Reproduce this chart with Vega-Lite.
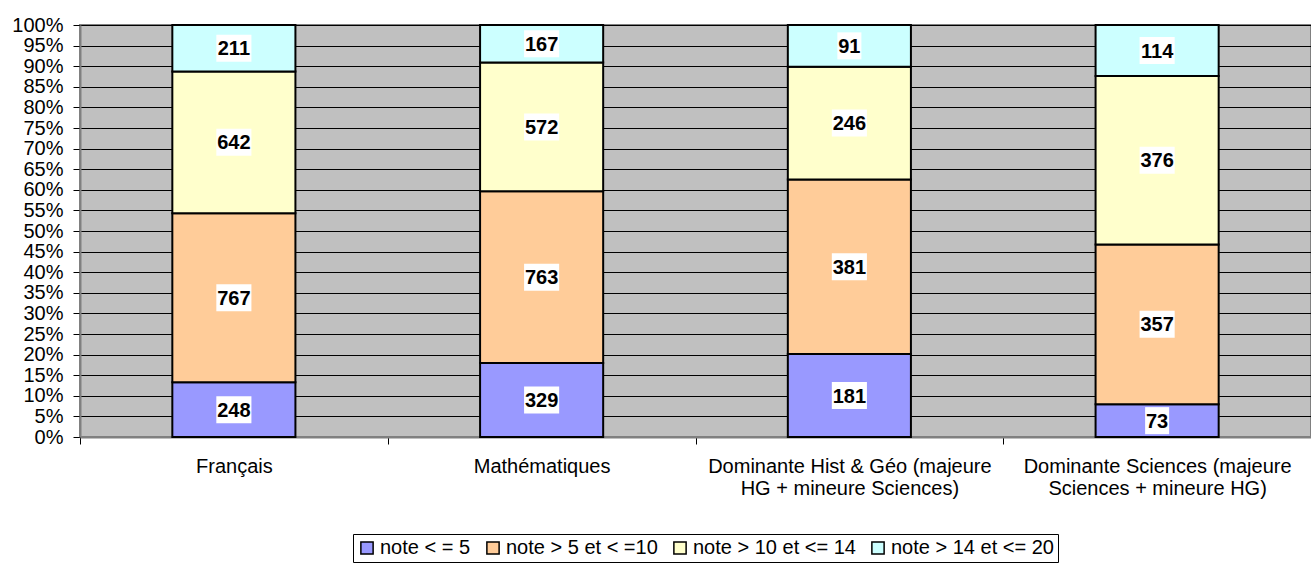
{
  "$schema": "https://vega.github.io/schema/vega-lite/v6.json",
  "width": 1231,
  "height": 412,
  "autosize": "none",
  "padding": {"left": 80, "top": 25, "right": 0, "bottom": 128},
  "background": "white",
  "config": {
    "font": "Liberation Sans",
    "view": {"fill": "#C0C0C0", "stroke": "#808080", "strokeWidth": 2},
    "axis": {"labelFont": "Liberation Sans", "labelFontSize": 20, "labelColor": "black", "tickColor": "black", "tickSize": 7, "domainColor": "#808080", "domainWidth": 2, "title": null}
  },
  "data": {
    "values": [
      {"matiere": "Français", "tranche": "note < = 5", "ordre": 1, "count": 248},
      {"matiere": "Français", "tranche": "note > 5 et < =10", "ordre": 2, "count": 767},
      {"matiere": "Français", "tranche": "note > 10 et <= 14", "ordre": 3, "count": 642},
      {"matiere": "Français", "tranche": "note > 14 et <= 20", "ordre": 4, "count": 211},
      {"matiere": "Mathématiques", "tranche": "note < = 5", "ordre": 1, "count": 329},
      {"matiere": "Mathématiques", "tranche": "note > 5 et < =10", "ordre": 2, "count": 763},
      {"matiere": "Mathématiques", "tranche": "note > 10 et <= 14", "ordre": 3, "count": 572},
      {"matiere": "Mathématiques", "tranche": "note > 14 et <= 20", "ordre": 4, "count": 167},
      {"matiere": "Dominante Hist & Géo (majeure HG + mineure Sciences)", "tranche": "note < = 5", "ordre": 1, "count": 181},
      {"matiere": "Dominante Hist & Géo (majeure HG + mineure Sciences)", "tranche": "note > 5 et < =10", "ordre": 2, "count": 381},
      {"matiere": "Dominante Hist & Géo (majeure HG + mineure Sciences)", "tranche": "note > 10 et <= 14", "ordre": 3, "count": 246},
      {"matiere": "Dominante Hist & Géo (majeure HG + mineure Sciences)", "tranche": "note > 14 et <= 20", "ordre": 4, "count": 91},
      {"matiere": "Dominante Sciences (majeure Sciences + mineure HG)", "tranche": "note < = 5", "ordre": 1, "count": 73},
      {"matiere": "Dominante Sciences (majeure Sciences + mineure HG)", "tranche": "note > 5 et < =10", "ordre": 2, "count": 357},
      {"matiere": "Dominante Sciences (majeure Sciences + mineure HG)", "tranche": "note > 10 et <= 14", "ordre": 3, "count": 376},
      {"matiere": "Dominante Sciences (majeure Sciences + mineure HG)", "tranche": "note > 14 et <= 20", "ordre": 4, "count": 114}
    ]
  },
  "encoding": {
    "x": {
      "field": "matiere", "type": "nominal",
      "sort": ["Français", "Mathématiques", "Dominante Hist & Géo (majeure HG + mineure Sciences)", "Dominante Sciences (majeure Sciences + mineure HG)"],
      "scale": {"paddingInner": 0, "paddingOuter": 0},
      "axis": {"labelAngle": 0, "tickBand": "extent", "labelPadding": 12, "labelLineHeight": 22, "labelLimit": 400,
        "labelExpr": "indexof(datum.label, 'majeure') > 0 ? [substring(datum.label, 0, indexof(datum.label, 'majeure') + 7), substring(datum.label, indexof(datum.label, 'majeure') + 8)] : datum.label"}
    },
    "order": {"field": "ordre", "type": "quantitative"}
  },
  "layer": [
    {
      "mark": {"type": "bar", "stroke": "black", "strokeWidth": 2, "width": {"band": 0.4}},
      "encoding": {
        "y": {"field": "count", "type": "quantitative", "stack": "normalize",
          "scale": {"domain": [0, 1], "nice": false},
          "axis": {"values": [0, 0.05, 0.1, 0.15, 0.2, 0.25, 0.3, 0.35, 0.4, 0.45, 0.5, 0.55, 0.6, 0.65, 0.7, 0.75, 0.8, 0.85, 0.9, 0.95, 1], "format": ".0%", "labelPadding": 10, "labelOverlap": false, "labelFlush": false, "grid": true, "gridColor": "black", "gridWidth": 1, "gridOpacity": 1}},
        "color": {"field": "tranche", "type": "nominal",
          "scale": {"domain": ["note < = 5", "note > 5 et < =10", "note > 10 et <= 14", "note > 14 et <= 20"], "range": ["#9999FF", "#FFCC99", "#FFFFCC", "#CCFFFF"]},
          "legend": {"orient": "none", "legendX": 273, "legendY": 509, "direction": "horizontal", "columns": 4, "title": null,
            "symbolType": "square", "symbolSize": 150, "symbolStrokeColor": "black", "symbolStrokeWidth": 1.5,
            "labelFont": "Liberation Sans", "labelFontSize": 20, "labelColor": "black", "labelLimit": 300, "labelOffset": 3,
            "strokeColor": "black", "fillColor": "white", "padding": 4, "columnPadding": 12}}
      }
    },
    {
      "mark": {"type": "point", "filled": true, "fill": "white", "opacity": 1, "strokeWidth": 0, "size": 729},
      "encoding": {
        "y": {"field": "count", "type": "quantitative", "stack": "normalize", "bandPosition": 0.5,
          "scale": {"domain": [0, 1], "nice": false},
          "axis": {"values": [0, 0.05, 0.1, 0.15, 0.2, 0.25, 0.3, 0.35, 0.4, 0.45, 0.5, 0.55, 0.6, 0.65, 0.7, 0.75, 0.8, 0.85, 0.9, 0.95, 1], "format": ".0%", "labelPadding": 10, "labelOverlap": false, "labelFlush": false, "grid": true, "gridColor": "black", "gridWidth": 1, "gridOpacity": 1}},
        "detail": {"field": "tranche"},
        "shape": {"condition": {"test": "datum.count < 100", "value": "M-0.89,-1H0.89V1H-0.89Z"}, "value": "M-1.3,-1H1.3V1H-1.3Z"}
      }
    },
    {
      "mark": {"type": "text", "font": "Liberation Sans", "fontSize": 20, "fontWeight": "bold", "color": "black", "baseline": "middle", "align": "center", "dy": 1},
      "encoding": {
        "y": {"field": "count", "type": "quantitative", "stack": "normalize", "bandPosition": 0.5,
          "scale": {"domain": [0, 1], "nice": false},
          "axis": {"values": [0, 0.05, 0.1, 0.15, 0.2, 0.25, 0.3, 0.35, 0.4, 0.45, 0.5, 0.55, 0.6, 0.65, 0.7, 0.75, 0.8, 0.85, 0.9, 0.95, 1], "format": ".0%", "labelPadding": 10, "labelOverlap": false, "labelFlush": false, "grid": true, "gridColor": "black", "gridWidth": 1, "gridOpacity": 1}},
        "detail": {"field": "tranche"},
        "text": {"field": "count", "type": "quantitative"}
      }
    }
  ]
}
